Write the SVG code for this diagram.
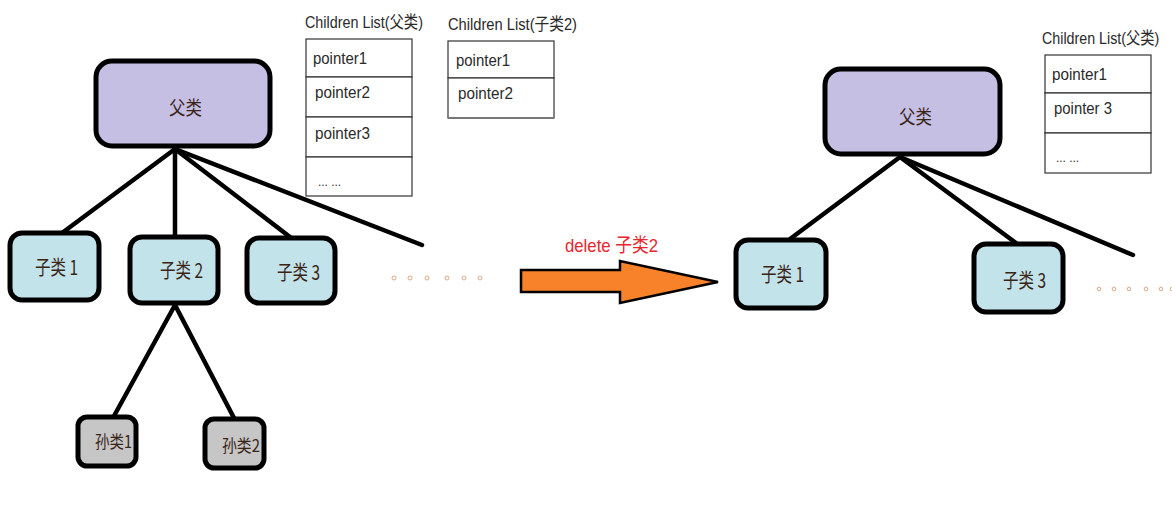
<svg xmlns="http://www.w3.org/2000/svg" width="1172" height="514" viewBox="0 0 1172 514">
<style>
.parent{fill:#c6bfe4;stroke:#000;stroke-width:5}
.child{fill:#c3e3ea;stroke:#000;stroke-width:5}
.grand{fill:#c6c6c6;stroke:#000;stroke-width:5}
.cell{fill:#fff;stroke:#333;stroke-width:1.2}
.edge{stroke:#000;stroke-width:4.5;stroke-linecap:round;fill:none}
.t{font-family:"Liberation Sans","Noto Sans CJK SC",sans-serif;fill:#2a2a2a}
.n{font-family:"Noto Sans CJK SC","Liberation Sans",sans-serif;fill:#3a2416}
.dot{fill:none;stroke:#d9a98a;stroke-width:1}
</style>
<rect width="1172" height="514" fill="#fff"/>
<g id="connectors">
<line class="edge" x1="175" y1="149" x2="62" y2="233"/>
<line class="edge" x1="175" y1="149" x2="175" y2="236"/>
<line class="edge" x1="175" y1="149" x2="290" y2="237"/>
<line class="edge" x1="175" y1="149" x2="422" y2="245"/>
<line class="edge" x1="175" y1="305" x2="114" y2="416"/>
<line class="edge" x1="175" y1="305" x2="234" y2="418"/>
<line class="edge" x1="900" y1="157" x2="790" y2="239"/>
<line class="edge" x1="900" y1="157" x2="1016" y2="243"/>
<line class="edge" x1="900" y1="157" x2="1133" y2="255"/>
</g>
<g id="parent-left">
<rect class="parent" x="96" y="61" width="174" height="85" rx="16"/>
<text class="n" x="169" y="115" font-size="19" textLength="33" lengthAdjust="spacingAndGlyphs">父类</text>
</g>
<g id="list-parent-left">
<text class="t" x="305" y="28" font-size="17" textLength="118" lengthAdjust="spacingAndGlyphs">Children List(父类)</text>
<rect class="cell" x="306" y="39" width="106" height="38"/>
<rect class="cell" x="306" y="77" width="106" height="40"/>
<rect class="cell" x="306" y="117" width="106" height="40"/>
<rect class="cell" x="306" y="157" width="106" height="39"/>
<text class="t" x="313" y="64" font-size="17" textLength="54" lengthAdjust="spacingAndGlyphs">pointer1</text>
<text class="t" x="315" y="98" font-size="17" textLength="55" lengthAdjust="spacingAndGlyphs">pointer2</text>
<text class="t" x="315" y="139" font-size="17" textLength="55" lengthAdjust="spacingAndGlyphs">pointer3</text>
<text class="t" x="318" y="186" font-size="12" textLength="23" lengthAdjust="spacingAndGlyphs">... ...</text>
</g>
<g id="list-child2">
<text class="t" x="448" y="30" font-size="17" textLength="129" lengthAdjust="spacingAndGlyphs">Children List(子类2)</text>
<rect class="cell" x="448" y="41" width="106" height="37"/>
<rect class="cell" x="448" y="78" width="106" height="40"/>
<line x1="448" y1="118" x2="554" y2="118" stroke="#777" stroke-width="2"/>
<text class="t" x="456" y="66" font-size="17" textLength="54" lengthAdjust="spacingAndGlyphs">pointer1</text>
<text class="t" x="458" y="99" font-size="17" textLength="55" lengthAdjust="spacingAndGlyphs">pointer2</text>
</g>
<g id="child1-left">
<rect class="child" x="10" y="233" width="89" height="67" rx="12"/>
<text class="n" x="35" y="275" font-size="20" textLength="43" lengthAdjust="spacingAndGlyphs">子类 1</text>
</g>
<g id="child2-left">
<rect class="child" x="130" y="237" width="88" height="66" rx="12"/>
<text class="n" x="160" y="278" font-size="20" textLength="43" lengthAdjust="spacingAndGlyphs">子类 2</text>
</g>
<g id="child3-left">
<rect class="child" x="247" y="238" width="88" height="65" rx="12"/>
<text class="n" x="277" y="280" font-size="20" textLength="43" lengthAdjust="spacingAndGlyphs">子类 3</text>
</g>
<g id="dots-left">
<circle class="dot" cx="394" cy="278" r="2"/>
<circle class="dot" cx="410" cy="278" r="2"/>
<circle class="dot" cx="427" cy="278" r="2"/>
<circle class="dot" cx="447" cy="278" r="2"/>
<circle class="dot" cx="464" cy="278" r="2"/>
<circle class="dot" cx="480" cy="278" r="2"/>
</g>
<g id="grandchild1">
<rect class="grand" x="78" y="417" width="58" height="49" rx="9"/>
<text class="n" x="95" y="448" font-size="17" textLength="37" lengthAdjust="spacingAndGlyphs">孙类1</text>
</g>
<g id="grandchild2">
<rect class="grand" x="205" y="419" width="59" height="49" rx="9"/>
<text class="n" x="222" y="452" font-size="17" textLength="38" lengthAdjust="spacingAndGlyphs">孙类2</text>
</g>
<g id="delete-arrow">
<polygon points="521,270 620,270 620,261 718,282 620,303 620,292 521,292" fill="#f7822a" stroke="#000" stroke-width="2.5" stroke-linejoin="miter"/>
<text x="565" y="252" font-family="Liberation Sans,Noto Sans CJK SC,sans-serif" font-size="19" fill="#e8262d" textLength="93" lengthAdjust="spacingAndGlyphs">delete 子类2</text>
</g>
<g id="parent-right">
<rect class="parent" x="825" y="69" width="175" height="85" rx="16"/>
<text class="n" x="899" y="124" font-size="19" textLength="33" lengthAdjust="spacingAndGlyphs">父类</text>
</g>
<g id="list-parent-right">
<text class="t" transform="translate(1042,44) scale(0.84,1)" x="0" y="0" font-size="17">Children List(父类)</text>
<rect class="cell" x="1045" y="55" width="106" height="38"/>
<rect class="cell" x="1045" y="93" width="106" height="40"/>
<rect class="cell" x="1045" y="133" width="106" height="40"/>
<text class="t" x="1052" y="80" font-size="17" textLength="55" lengthAdjust="spacingAndGlyphs">pointer1</text>
<text class="t" x="1054" y="114" font-size="17" textLength="58" lengthAdjust="spacingAndGlyphs">pointer 3</text>
<text class="t" x="1056" y="162" font-size="12" textLength="23" lengthAdjust="spacingAndGlyphs">... ...</text>
</g>
<g id="child1-right">
<rect class="child" x="736" y="240" width="90" height="68" rx="12"/>
<text class="n" x="761" y="282" font-size="20" textLength="43" lengthAdjust="spacingAndGlyphs">子类 1</text>
</g>
<g id="child3-right">
<rect class="child" x="974" y="244" width="89" height="68" rx="12"/>
<text class="n" x="1003" y="288" font-size="20" textLength="43" lengthAdjust="spacingAndGlyphs">子类 3</text>
</g>
<g id="dots-right">
<circle class="dot" cx="1099" cy="289" r="1.8"/>
<circle class="dot" cx="1114" cy="289" r="1.8"/>
<circle class="dot" cx="1129" cy="289" r="1.8"/>
<circle class="dot" cx="1146" cy="289" r="1.8"/>
<circle class="dot" cx="1161" cy="289" r="1.8"/>
<circle class="dot" cx="1172" cy="289" r="1.8"/>
</g>
</svg>
